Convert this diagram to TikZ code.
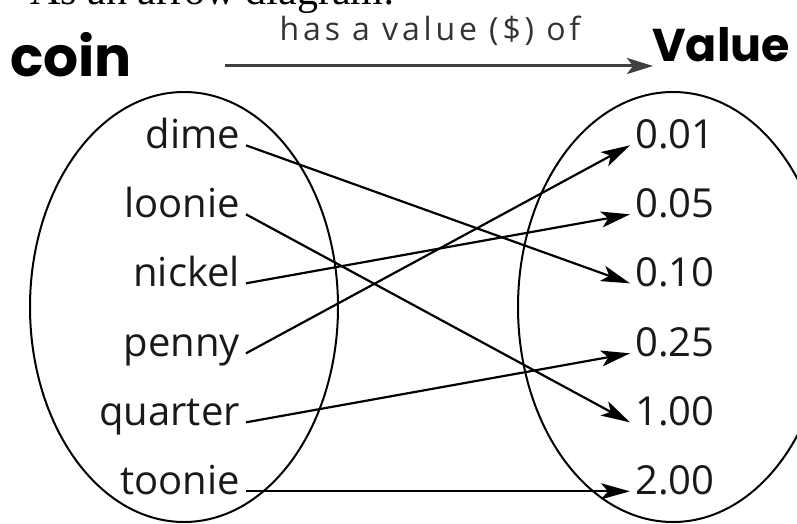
\documentclass[tikz,border=0pt]{standalone}
\usepackage{fontspec}
\setmainfont{Open Sans}
\newfontfamily\handfont{Poppins}
\newfontfamily\bookfont{Liberation Serif}
\usetikzlibrary{arrows.meta}
\tikzset{
  coinlabel/.style={anchor=base east,inner xsep=6pt,text=black!90,font=\fontsize{40}{40}\selectfont},
  vallabel/.style={anchor=base west,inner xsep=5pt,text=black!90,font=\fontsize{40}{40}\selectfont},
  handlabel/.style={anchor=base west,inner sep=0pt,font=\handfont\bfseries\fontsize{55}{55}\selectfont},
  maparrow/.style={line width=2.2pt,-{Stealth[length=29pt,width=16pt,inset=7pt]}},
  setring/.style={line width=2pt}
}
\begin{document}
\begin{tikzpicture}[x=1pt,y=-1pt]
\useasboundingbox (0,0) rectangle (797,524);
% clipped line from the page above
\node[anchor=base west,inner sep=0pt,font=\bookfont\fontsize{42}{42}\selectfont] (caption) at (30,5) {As an arrow diagram:};
\node[handlabel] (coinhead) at (10,77) {coin};
\node[handlabel,font=\handfont\bfseries\fontsize{46}{46}\selectfont] (valuehead) at (652,62) {Value};
\node[anchor=base,inner sep=0pt,text=black!80,font=\addfontfeatures{LetterSpace=12}\fontsize{32}{32}\selectfont] (relation) at (430,41) {has a value (\$) of};
\coordinate (relL) at (225,66);
\coordinate (relR) at (653,66);
\draw[line width=3pt,black!75,-{Stealth[length=26pt,width=16pt,inset=6pt]}] (relL) -- (relR);

% the two sets
\draw[setring] (184,307) ellipse [x radius=154pt,y radius=215pt];
\draw[setring] (673,307) ellipse [x radius=155pt,y radius=215pt];

\foreach \name/\y in {dime/148,loonie/217,nickel/286,penny/356,quarter/425,toonie/494}
  \node[coinlabel] (\name) at (246,\y) {\name};
\foreach \name/\txt/\y in {v001/0.01/148,v005/0.05/217,v010/0.10/286,v025/0.25/356,v100/1.00/425,v200/2.00/494}
  \node[vallabel] (\name) at (630,\y) {\txt};

\draw[maparrow] (dime.mid east) -- (v010.mid west);
\draw[maparrow] (loonie.mid east) -- (v100.mid west);
\draw[maparrow] (nickel.mid east) -- (v005.mid west);
\draw[maparrow] (penny.mid east) -- (v001.mid west);
\draw[maparrow] (quarter.mid east) -- (v025.mid west);
\draw[maparrow] (toonie.mid east) -- (v200.mid west);
\end{tikzpicture}
\end{document}
